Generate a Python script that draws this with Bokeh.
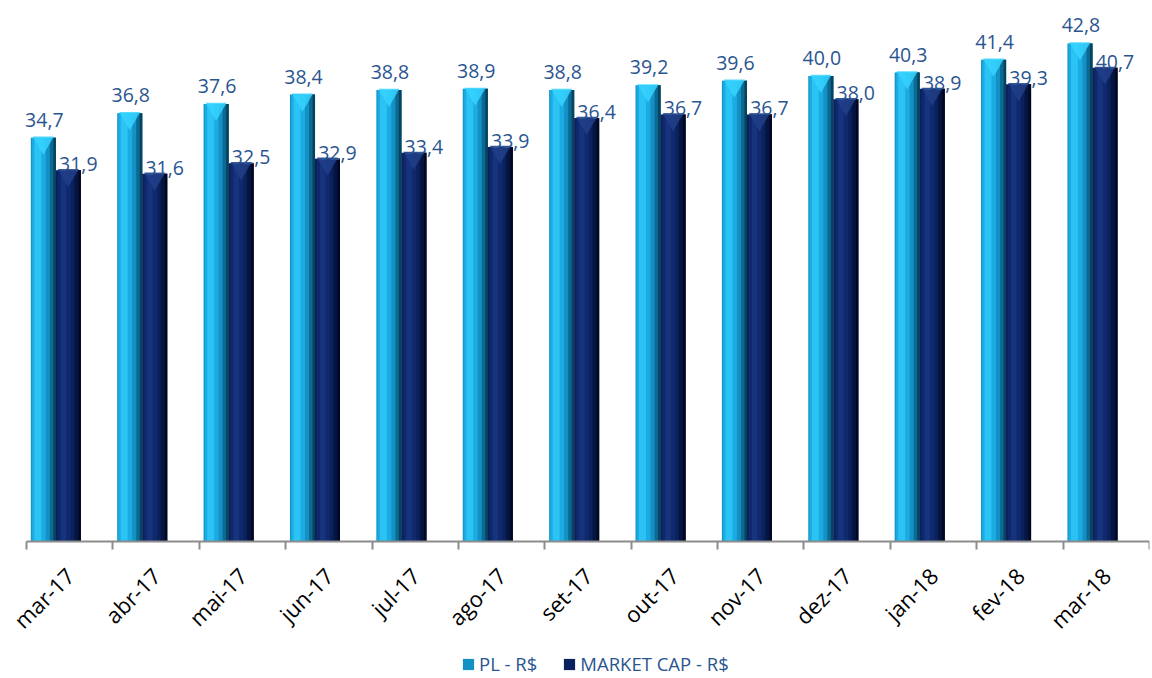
import numpy as np
from bokeh.plotting import figure
from bokeh.models import (ColumnDataSource, Range1d, LinearAxis, FixedTicker,
                          Legend, LegendItem)
from bokeh.transform import dodge
from bokeh.core.properties import value
from bokeh.embed import file_html
from bokeh.resources import INLINE

# ---------------- data ----------------
months = ["mar-17", "abr-17", "mai-17", "jun-17", "jul-17", "ago-17", "set-17",
          "out-17", "nov-17", "dez-17", "jan-18", "fev-18", "mar-18"]
pl = [34.7, 36.8, 37.6, 38.4, 38.8, 38.9, 38.8, 39.2, 39.6, 40.0, 40.3, 41.4, 42.8]
market_cap = [31.9, 31.6, 32.5, 32.9, 33.4, 33.9, 36.4, 36.7, 36.7, 38.0, 38.9, 39.3, 40.7]
series_names = ["PL - R$", "MARKET CAP - R$"]

FONT = "Open Sans"
LABEL_COLOR = "#2A5590"

idx = np.arange(len(months))
src = ColumnDataSource(dict(
    x=idx.astype(float),
    pl=pl, mc=market_cap,
    pl_txt=[f"{v:.1f}".replace(".", ",") for v in pl],
    mc_txt=[f"{v:.1f}".replace(".", ",") for v in market_cap],
))

# frame spans the whole canvas; the value axis starts at 0 part-way down
p = figure(frame_width=1149, frame_height=670, output_backend="svg", toolbar_location=None,
           x_range=Range1d(-0.301, len(months)), y_range=Range1d(-11.77, 45.8),
           min_border_left=0, min_border_right=3, min_border_top=8,
           min_border_bottom=0, outline_line_color=None,
           x_axis_type=None, y_axis_type=None)
p.xgrid.visible = False
p.ygrid.visible = False
p.background_fill_color = "white"
p.border_fill_color = "white"

BW = 0.29            # bar width (category units)
PL_OFF = 0.195       # bar centre offset from category start
MC_OFF = 0.484

def bevel_bar(off, field, strips, tri_color):
    main = None
    for (a, b, col) in strips:
        r = p.vbar(x=dodge("x", off - BW / 2 + BW * (a + b) / 2, range=p.x_range),
                   top=field, width=BW * (b - a), bottom=0, source=src,
                   fill_color=col, line_color=None)
        if main is None:
            main = r
    p.scatter(x=dodge("x", off, range=p.x_range), y=dodge(field, -0.42),
              marker="inverted_triangle", size=21, source=src,
              fill_color=tri_color, line_color=None, fill_alpha=0.85)
    return main

pl_strips = [(0.0, 1.0, "#1390C4"), (0.04, 0.6, "#1BAAE2"), (0.14, 0.42, "#2BC3F4"),
             (0.76, 1.0, "#0C6A92"), (0.9, 1.0, "#07435D")]
mc_strips = [(0.0, 1.0, "#0A215E"), (0.08, 0.6, "#0F296C"), (0.2, 0.42, "#16337E"),
             (0.74, 1.0, "#06153F"), (0.9, 1.0, "#020822")]

r_pl = bevel_bar(PL_OFF, "pl", pl_strips, "#36D4FF")
r_mc = bevel_bar(MC_OFF, "mc", mc_strips, "#213E88")

# data labels
p.text(x=dodge("x", PL_OFF, range=p.x_range), y="pl", text="pl_txt", source=src,
       text_font=value(FONT), text_font_size="19.5px", text_color=LABEL_COLOR,
       text_align="center", text_baseline="alphabetic", x_offset=1, y_offset=-18)
p.text(x=dodge("x", MC_OFF, range=p.x_range), y="mc", text="mc_txt", source=src,
       text_font=value(FONT), text_font_size="19.5px", text_color=LABEL_COLOR,
       text_align="center", text_baseline="alphabetic", x_offset=10, y_offset=-6)

# single x axis at value 0: labels at category centres, tick marks at boundaries
centres = [i + 0.5 for i in range(len(months))]
bounds = list(range(len(months) + 1))
ax = LinearAxis(ticker=FixedTicker(ticks=centres, minor_ticks=bounds),
                fixed_location=0, bounds=(0, len(months)),
                axis_line_color="#8C8C8C", axis_line_width=2,
                major_tick_line_color=None, major_tick_out=0, major_tick_in=0,
                minor_tick_line_color="#8C8C8C", minor_tick_line_width=2,
                minor_tick_out=8, minor_tick_in=0,
                major_label_orientation=np.pi / 4,
                major_label_text_font=FONT, major_label_text_font_size="22px",
                major_label_text_color="black", major_label_standoff=22)
ax.major_label_overrides = {c: m for c, m in zip(centres, months)}
p.add_layout(ax, "below")

legend = Legend(items=[LegendItem(label=series_names[0], renderers=[r_pl]),
                       LegendItem(label=series_names[1], renderers=[r_mc])],
                orientation="horizontal", location=(461, 2),
                label_text_font=FONT, label_text_font_size="18.5px",
                label_text_color=LABEL_COLOR, glyph_width=14, glyph_height=14,
                spacing=25, label_standoff=4, border_line_color=None,
                background_fill_alpha=0, padding=2, margin=0)
p.add_layout(legend)

open("out.html", "w").write(file_html(p, INLINE))
